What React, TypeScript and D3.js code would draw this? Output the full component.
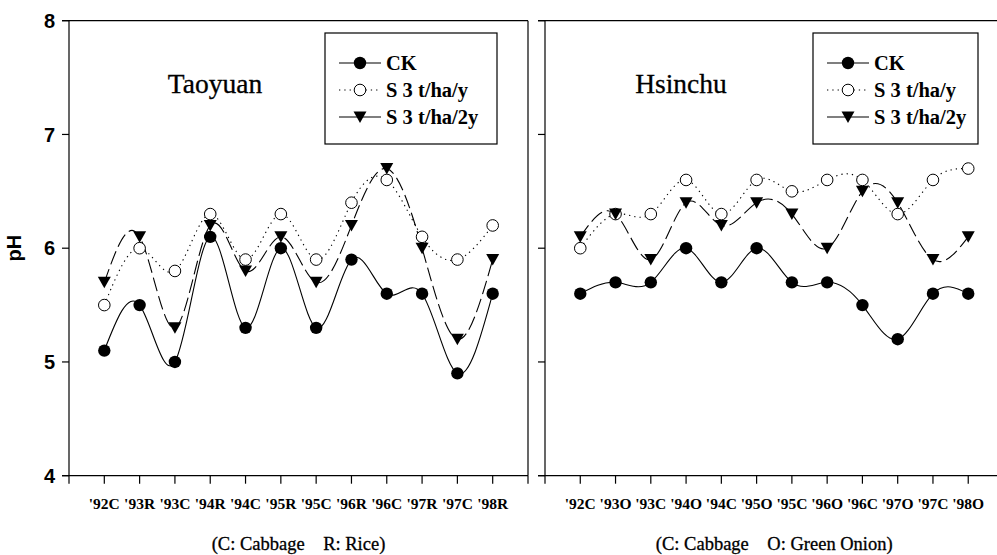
import React from "react";
import * as d3 from "d3";

const taoyuanCategories = ["'92C", "'93R", "'93C", "'94R", "'94C", "'95R", "'95C", "'96R", "'96C", "'97R", "'97C", "'98R"];
const taoyuanCK = [5.1, 5.5, 5.0, 6.1, 5.3, 6.0, 5.3, 5.9, 5.6, 5.6, 4.9, 5.6];
const taoyuanS1 = [5.5, 6.0, 5.8, 6.3, 5.9, 6.3, 5.9, 6.4, 6.6, 6.1, 5.9, 6.2];
const taoyuanS2 = [5.7, 6.1, 5.3, 6.2, 5.8, 6.1, 5.7, 6.2, 6.7, 6.0, 5.2, 5.9];

const hsinchuCategories = ["'92C", "'93O", "'93C", "'94O", "'94C", "'95O", "'95C", "'96O", "'96C", "'97O", "'97C", "'98O"];
const hsinchuCK = [5.6, 5.7, 5.7, 6.0, 5.7, 6.0, 5.7, 5.7, 5.5, 5.2, 5.6, 5.6];
const hsinchuS1 = [6.0, 6.3, 6.3, 6.6, 6.3, 6.6, 6.5, 6.6, 6.6, 6.3, 6.6, 6.7];
const hsinchuS2 = [6.1, 6.3, 5.9, 6.4, 6.2, 6.4, 6.3, 6.0, 6.5, 6.4, 5.9, 6.1];

const seriesNames = ["CK", "S 3 t/ha/y", "S 3 t/ha/2y"];
const yTicks = [4, 5, 6, 7, 8];

const SERIF = "'Liberation Serif', 'Times New Roman', serif";
const SANS = "'Liberation Sans', Arial, sans-serif";

const yScale = d3.scaleLinear().domain([4, 8]).range([475.7, 20.7]);

const dashes = [null, "1.3,4", "14,5"];

function Marker({ kind, x, y }: { kind: number; x: number; y: number }) {
  if (kind === 0) return <circle cx={x} cy={y} r={6.2} fill="#000" />;
  if (kind === 1) return <circle cx={x} cy={y} r={5.8} fill="#fff" stroke="#000" strokeWidth={1} />;
  return <path d="M-6.5,-5.5L6.5,-5.5L0,6Z" transform={`translate(${x},${y})`} fill="#000" />;
}

type PanelProps = {
  x0: number;
  x1: number;
  categories: string[];
  series: number[][];
  title: string;
  titleX: number;
  caption: string;
  legendX: number;
  legendW: number;
  showYLabels: boolean;
  drawRight: boolean;
};

function Panel(p: PanelProps) {
  const xScale = d3.scaleLinear().domain([0, 13]).range([p.x0, p.x1]);
  const line = d3
    .line<number>()
    .x((_, i) => xScale(i + 1))
    .y((d) => yScale(d))
    .curve(d3.curveNatural);
  const xTicks = d3.range(0, 14);
  const top = yScale(8);
  const bottom = yScale(4);
  const rightEdge = Math.min(p.x1, 997);
  const rowY = [63, 90, 117];
  return (
    <g>
      <line x1={p.x0 - 7} x2={rightEdge} y1={top} y2={top} stroke="#000" strokeWidth={1.2} />
      <line x1={p.x0 - 7} x2={rightEdge} y1={bottom} y2={bottom} stroke="#000" strokeWidth={1.2} />
      <line x1={p.x0} x2={p.x0} y1={top} y2={bottom} stroke="#000" strokeWidth={1.2} />
      {p.drawRight && <line x1={p.x1} x2={p.x1} y1={top} y2={bottom} stroke="#000" strokeWidth={1.2} />}
      {yTicks.map((t) => (
        <line key={"yt" + t} x1={p.x0 - 7} x2={p.x0} y1={yScale(t)} y2={yScale(t)} stroke="#000" strokeWidth={1.2} />
      ))}
      {p.showYLabels &&
        yTicks.map((t) => (
          <text key={"yl" + t} x={p.x0 - 14} y={yScale(t)} dy="0.36em" textAnchor="end" fontFamily={SANS} fontWeight="bold" fontSize={20}>
            {t}
          </text>
        ))}
      {xTicks.map((t) => (
        <line key={"xt" + t} x1={xScale(t)} x2={xScale(t)} y1={bottom} y2={bottom + 8} stroke="#000" strokeWidth={1.2} />
      ))}
      {p.categories.map((c, i) => (
        <text key={"xl" + i} x={xScale(i + 1)} y={509} textAnchor="middle" fontFamily={SERIF} fontWeight="bold" fontSize={15.5}>
          {c}
        </text>
      ))}
      <text x={(p.x0 + p.x1) / 2} y={550} textAnchor="middle" fontFamily={SERIF} fontSize={18.5} stroke="#000" strokeWidth={0.3} style={{ whiteSpace: "pre" }} xmlSpace="preserve">
        {p.caption}
      </text>
      {p.series.map((s, k) => (
        <path
          key={"l" + k}
          d={line(s) || ""}
          fill="none"
          stroke="#000"
          strokeWidth={1.1}
          strokeDasharray={dashes[k] || undefined}
        />
      ))}
      {p.series.map((s, k) =>
        s.map((v, i) => <Marker key={"m" + k + "-" + i} kind={k} x={xScale(i + 1)} y={yScale(v)} />)
      )}
      <text x={p.titleX} y={93} textAnchor="middle" fontFamily={SERIF} fontSize={27.5} stroke="#000" strokeWidth={0.3}>
        {p.title}
      </text>
      <rect x={p.legendX} y={33} width={p.legendW} height={111} fill="#fff" stroke="#000" strokeWidth={1.2} />
      {seriesNames.map((n, k) => (
        <g key={"lg" + k}>
          <line
            x1={p.legendX + 14}
            x2={p.legendX + 56}
            y1={rowY[k]}
            y2={rowY[k]}
            stroke="#000"
            strokeWidth={1.1}
            strokeDasharray={k === 1 ? "1.3,4" : undefined}
          />
          <Marker kind={k} x={p.legendX + 35} y={rowY[k]} />
          <text x={p.legendX + 61} y={rowY[k]} dy="0.35em" fontFamily={SERIF} fontWeight="bold" fontSize={20.5}>
            {n}
          </text>
        </g>
      ))}
    </g>
  );
}

export default function App() {
  return (
    <svg width={997} height={555} style={{ position: "absolute", left: 0, top: 0, background: "#fff" }}>
      <rect x={0} y={0} width={997} height={555} fill="#fff" />
      <Panel
        x0={69}
        x1={528}
        categories={taoyuanCategories}
        series={[taoyuanCK, taoyuanS1, taoyuanS2]}
        title="Taoyuan"
        titleX={215}
        caption="(C: Cabbage    R: Rice)"
        legendX={325}
        legendW={172}
        showYLabels={true}
        drawRight={true}
      />
      <Panel
        x0={545}
        x1={1003.5}
        categories={hsinchuCategories}
        series={[hsinchuCK, hsinchuS1, hsinchuS2]}
        title="Hsinchu"
        titleX={681}
        caption="(C: Cabbage    O: Green Onion)"
        legendX={813}
        legendW={165}
        showYLabels={false}
        drawRight={false}
      />
      <text
        transform={`translate(21,${yScale(6)}) rotate(-90)`}
        textAnchor="middle"
        fontFamily={SANS}
        fontWeight="bold"
        fontSize={20}
      >
        pH
      </text>
    </svg>
  );
}
